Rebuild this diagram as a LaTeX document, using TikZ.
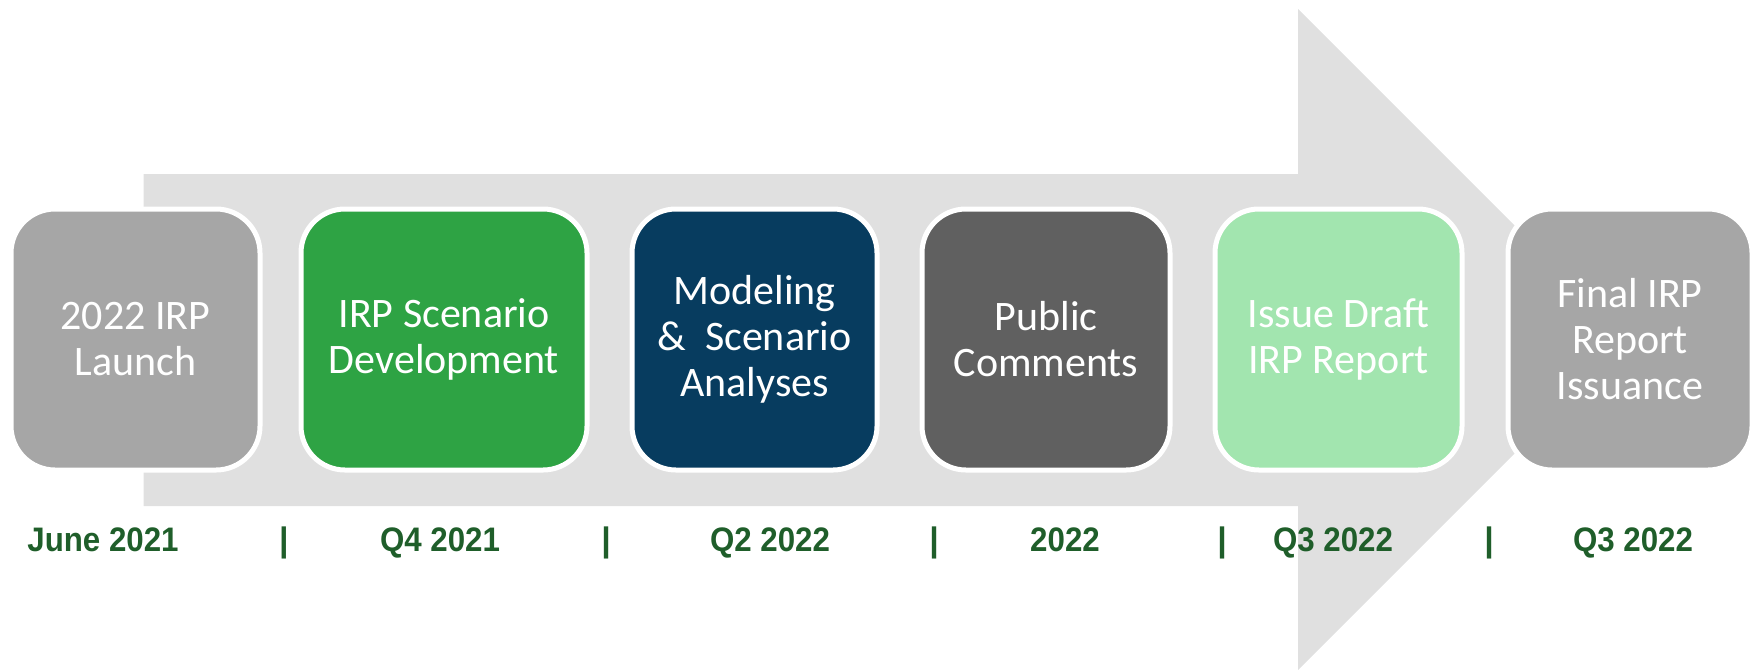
\documentclass[tikz,border=0pt]{standalone}
\usepackage{fontspec}
\usepackage{graphicx}
\setmainfont{Carlito}
\newfontfamily\datefont{Liberation Sans}
\definecolor{arrowgray}{HTML}{E0E0E0}
\definecolor{stepgray}{HTML}{A6A6A6}
\definecolor{stepgreen}{HTML}{2EA344}
\definecolor{stepnavy}{HTML}{073C5F}
\definecolor{stepdark}{HTML}{606060}
\definecolor{steplight}{HTML}{A2E5AF}
\definecolor{dategreen}{HTML}{1F5E2A}
\tikzset{
  stepbox/.style={draw=white, line width=2.5pt, rounded corners=22pt,
    minimum height=130.5pt, text=white, align=center,
    font=\fontsize{21}{23}\selectfont, inner sep=0pt},
  datelabel/.style={text=dategreen, inner sep=0pt, anchor=base,
    font=\datefont\bfseries\fontsize{17}{19}\selectfont}
}
\newcommand{\datetext}[1]{\scalebox{0.92}[1]{#1}}
\begin{document}
\begin{tikzpicture}[x=0.5pt, y=-0.5pt]
  \useasboundingbox (0,0) rectangle (1759,670);
  % big background arrow
  \fill[arrowgray] (143.6,174) -- (1298,174) -- (1298,9) -- (1628.5,339.5)
    -- (1298,670) -- (1298,506) -- (143.6,506) -- cycle;
  % process steps
  \node[stepbox, fill=stepgray,  minimum width=124.5pt] (s1) at (135.5,339.5) {2022 IRP\\Launch};
  \node[stepbox, fill=stepgreen, minimum width=143pt]   (s2) at (444,339.5)   {IRP Scenario\\Development};
  \node[stepbox, fill=stepnavy,  minimum width=122.5pt] (s3) at (754.5,339.5) {Modeling\\\&\ \ Scenario\\Analyses};
  \node[stepbox, fill=stepdark,  minimum width=124pt]   (s4) at (1046,339.5)  {Public\\Comments};
  \node[stepbox, fill=steplight, minimum width=123.5pt] (s5) at (1338.5,339.5){Issue Draft\\IRP Report};
  \node[stepbox, fill=stepgray,  minimum width=122pt]   (s6) at (1630,339.5)  {Final IRP\\Report\\Issuance};
  % dates
  \node[datelabel] (d1) at (103,551)  {\datetext{June 2021}};
  \node[datelabel] (d2) at (440,551)  {\datetext{Q4 2021}};
  \node[datelabel] (d3) at (770,551)  {\datetext{Q2 2022}};
  \node[datelabel] (d4) at (1065,551) {\datetext{2022}};
  \node[datelabel] (d5) at (1333,551) {\datetext{Q3 2022}};
  \node[datelabel] (d6) at (1633,551) {\datetext{Q3 2022}};
  % separators
  \node[datelabel] (b1) at (284,551)  {|};
  \node[datelabel] (b2) at (606,551)  {|};
  \node[datelabel] (b3) at (934,551)  {|};
  \node[datelabel] (b4) at (1222,551) {|};
  \node[datelabel] (b5) at (1489,551) {|};
\end{tikzpicture}
\end{document}
